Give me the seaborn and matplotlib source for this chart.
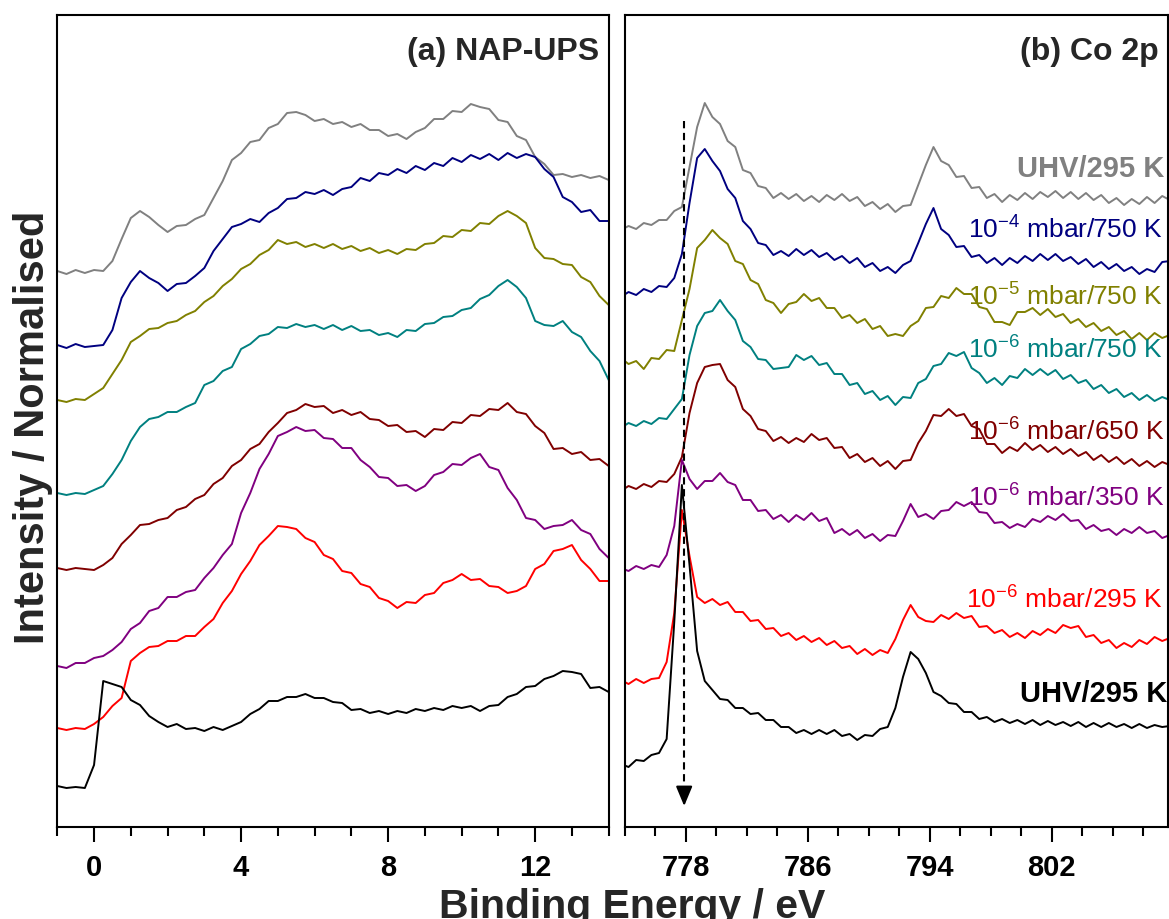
import numpy as np
import pandas as pd
import matplotlib
matplotlib.use("Agg")
import matplotlib.pyplot as plt
from matplotlib.ticker import MultipleLocator
import seaborn as sns

sns.set_style("ticks")
plt.rcParams["font.family"] = ["Liberation Sans", "DejaVu Sans"]
plt.rcParams["mathtext.fontset"] = "custom"
plt.rcParams["mathtext.rm"] = "Liberation Sans"
plt.rcParams["mathtext.it"] = "Liberation Sans:italic"
plt.rcParams["mathtext.bf"] = "Liberation Sans:bold"
plt.rcParams["axes.edgecolor"] = "black"
plt.rcParams["xtick.color"] = "black"

# ---------------- data ----------------
conditions = ["UHV/295 K (final)", "1e-4 mbar/750 K", "1e-5 mbar/750 K", "1e-6 mbar/750 K",
              "1e-6 mbar/650 K", "1e-6 mbar/350 K", "1e-6 mbar/295 K", "UHV/295 K"]
colors = ["#808080", "#000080", "#808000", "#008080", "#800000", "#800080", "#FF0000", "#000000"]
right_labels = ["UHV/295 K", r"10$^{-4}$ mbar/750 K", r"10$^{-5}$ mbar/750 K", r"10$^{-6}$ mbar/750 K",
                r"10$^{-6}$ mbar/650 K", r"10$^{-6}$ mbar/350 K", r"10$^{-6}$ mbar/295 K", "UHV/295 K"]
label_bold = [True, False, False, False, False, False, False, True]
label_energy = [799.7, 796.5, 796.5, 796.5, 796.5, 796.5, 796.4, 799.9]
label_level = [651, 589, 522, 469, 387, 321, 219, 126]

# (a) NAP-UPS, binding energy -1 ... 14 eV, step 0.25 eV (intensity, offset stacked)
ups_energy = np.arange(-1.0, 14.001, 0.25)
ups_gray = [556, 553, 557, 554, 557, 556, 566, 588, 609, 616, 610, 602, 595, 601, 602, 608,
            612, 629, 646, 667, 674, 685, 687, 699, 703, 714, 715, 712, 706, 708, 703, 705,
            700, 703, 697, 697, 691, 693, 688, 695, 699, 708, 708, 716, 715, 723, 720, 718,
            707, 705, 691, 687, 670, 663, 652, 653, 650, 652, 649, 651, 647]
ups_navy = [482, 479, 483, 480, 481, 482, 497, 529, 545, 556, 549, 544, 536, 543, 544, 551,
            559, 576, 588, 600, 603, 608, 605, 614, 619, 628, 629, 635, 633, 637, 632, 638,
            640, 649, 646, 654, 652, 658, 654, 661, 657, 664, 661, 669, 665, 672, 668, 673,
            667, 674, 669, 673, 670, 658, 650, 630, 625, 615, 617, 606, 606]
ups_olive = [427, 425, 428, 427, 433, 439, 453, 467, 485, 491, 498, 499, 504, 506, 512, 516,
             525, 531, 541, 548, 558, 563, 572, 577, 587, 583, 585, 580, 583, 579, 583, 578,
             581, 576, 579, 574, 577, 573, 578, 577, 583, 584, 591, 590, 597, 596, 604, 603,
             611, 616, 611, 604, 579, 569, 568, 563, 562, 550, 545, 531, 522]
ups_teal = [334, 332, 334, 333, 337, 341, 353, 367, 386, 400, 408, 410, 415, 415, 420, 424,
            442, 446, 456, 460, 478, 483, 491, 493, 500, 499, 503, 500, 502, 498, 502, 497,
            501, 496, 497, 492, 494, 490, 497, 496, 503, 504, 510, 511, 517, 519, 528, 532,
            541, 547, 540, 529, 506, 502, 501, 506, 495, 490, 476, 466, 447]
ups_darkred = [259, 257, 259, 258, 257, 262, 269, 283, 292, 302, 303, 307, 309, 317, 320, 328,
               332, 343, 349, 361, 367, 378, 383, 395, 404, 414, 417, 423, 420, 421, 414, 417,
               412, 415, 408, 407, 401, 402, 395, 396, 390, 398, 397, 405, 404, 412, 411, 418,
               417, 424, 415, 413, 401, 394, 378, 379, 373, 375, 367, 368, 361]
ups_purple = [161, 159, 164, 164, 169, 171, 177, 185, 198, 204, 216, 219, 230, 230, 235, 237,
              249, 259, 272, 283, 314, 334, 358, 373, 391, 395, 400, 396, 397, 389, 388, 379,
              379, 367, 360, 350, 349, 341, 342, 336, 341, 352, 355, 363, 362, 369, 373, 360,
              357, 339, 327, 309, 307, 298, 301, 302, 307, 297, 293, 278, 269]
ups_red = [99, 97, 99, 98, 103, 110, 121, 129, 166, 174, 180, 181, 186, 186, 191, 191,
           200, 208, 224, 236, 253, 266, 282, 291, 301, 300, 298, 289, 285, 272, 268, 256,
           254, 243, 240, 229, 226, 219, 225, 224, 232, 234, 244, 247, 253, 247, 248, 241,
           240, 234, 236, 241, 258, 263, 276, 278, 282, 267, 258, 246, 246]
ups_black = [41, 39, 40, 39, 62, 146, 143, 140, 127, 122, 111, 105, 100, 103, 98, 99,
             96, 100, 97, 101, 105, 113, 118, 126, 126, 130, 130, 133, 129, 129, 125, 124,
             117, 118, 114, 116, 113, 116, 114, 118, 116, 119, 117, 121, 119, 121, 116, 121,
             122, 130, 133, 140, 141, 148, 151, 156, 155, 153, 139, 140, 135]

# (b) Co 2p, binding energy 773.75 ... 809.75 eV, step 0.5 eV
co_energy = np.arange(773.75, 809.751, 0.5)
co_gray = [597, 601, 598, 604, 602, 607, 607, 616, 620, 660, 700, 724, 710, 703, 686, 680,
           657, 654, 641, 639, 629, 634, 628, 633, 626, 631, 625, 632, 627, 633, 626, 630,
           621, 625, 618, 623, 615, 621, 622, 642, 662, 680, 666, 662, 650, 651, 639, 640,
           629, 633, 625, 632, 627, 634, 628, 635, 630, 636, 629, 635, 628, 634, 627, 632,
           624, 629, 622, 628, 623, 630, 624, 631, 627]
co_navy = [530, 535, 532, 538, 535, 541, 540, 549, 573, 624, 669, 678, 666, 656, 638, 629,
           606, 598, 584, 582, 572, 576, 571, 578, 572, 577, 570, 574, 567, 571, 564, 569,
           560, 564, 556, 560, 554, 562, 566, 584, 603, 619, 598, 592, 580, 581, 570, 572,
           564, 569, 562, 569, 564, 571, 566, 573, 567, 573, 566, 570, 563, 568, 560, 565,
           558, 563, 556, 560, 553, 558, 555, 565, 566]
co_olive = [469, 463, 466, 458, 469, 468, 477, 476, 507, 538, 579, 587, 597, 589, 583, 566,
            563, 547, 543, 527, 524, 514, 523, 525, 533, 526, 529, 519, 519, 509, 512, 504,
            508, 498, 501, 491, 493, 491, 501, 506, 519, 520, 531, 529, 539, 533, 533, 520,
            518, 505, 505, 502, 515, 515, 519, 512, 518, 510, 513, 504, 508, 500, 504, 496,
            500, 492, 496, 488, 494, 487, 494, 489, 492]
co_teal = [399, 404, 401, 406, 403, 409, 408, 418, 428, 472, 501, 514, 516, 527, 516, 507,
           486, 480, 468, 467, 458, 459, 460, 472, 467, 471, 462, 464, 453, 453, 442, 444,
           433, 436, 427, 431, 422, 430, 429, 444, 448, 461, 463, 474, 471, 475, 459, 454,
           444, 449, 442, 451, 449, 458, 452, 458, 452, 457, 448, 452, 444, 447, 438, 442,
           434, 438, 430, 434, 427, 432, 426, 430, 427]
co_darkred = [336, 341, 338, 343, 340, 346, 345, 353, 370, 414, 444, 460, 462, 463, 447, 440,
              418, 411, 398, 396, 386, 390, 384, 389, 385, 393, 387, 389, 379, 380, 369, 373,
              365, 369, 361, 366, 358, 366, 367, 384, 396, 412, 411, 418, 411, 413, 401, 398,
              383, 383, 374, 380, 376, 384, 377, 382, 375, 380, 373, 378, 371, 375, 367, 372,
              365, 370, 363, 368, 361, 366, 360, 365, 362]
co_purple = [259, 256, 261, 258, 262, 260, 272, 301, 367, 348, 338, 346, 346, 354, 345, 342,
             327, 327, 316, 317, 308, 312, 305, 312, 307, 314, 306, 309, 294, 298, 292, 297,
             289, 293, 286, 292, 291, 306, 323, 310, 313, 308, 316, 317, 325, 321, 325, 315,
             314, 304, 305, 299, 303, 300, 308, 305, 311, 307, 313, 306, 307, 298, 302, 296,
             298, 292, 298, 294, 300, 294, 296, 289, 292]
co_red = [147, 143, 148, 144, 148, 149, 165, 214, 317, 271, 230, 224, 228, 222, 225, 215,
          215, 206, 207, 198, 199, 191, 194, 187, 191, 185, 189, 182, 186, 179, 181, 173,
          178, 172, 177, 174, 188, 207, 222, 210, 206, 205, 212, 208, 214, 209, 211, 200,
          201, 194, 197, 190, 194, 189, 196, 192, 198, 194, 202, 199, 201, 190, 192, 184,
          187, 179, 184, 180, 187, 183, 190, 186, 189]
co_black = [63, 60, 67, 66, 72, 74, 88, 205, 342, 262, 176, 146, 137, 128, 127, 119,
            119, 113, 114, 107, 107, 100, 100, 94, 97, 93, 97, 93, 97, 91, 93, 87,
            92, 91, 98, 100, 119, 150, 175, 168, 154, 135, 131, 124, 123, 115, 115, 108,
            110, 105, 108, 104, 107, 103, 107, 102, 106, 102, 105, 101, 105, 100, 104, 100,
            104, 100, 103, 99, 103, 99, 102, 100, 101]

ups_series = [ups_gray, ups_navy, ups_olive, ups_teal, ups_darkred, ups_purple, ups_red, ups_black]
co_series = [co_gray, co_navy, co_olive, co_teal, co_darkred, co_purple, co_red, co_black]

ups_major = [0, 4, 8, 12]
co_major = [778, 786, 794, 802]
arrow_energy = 777.9
arrow_top, arrow_bottom = 706, 21


def long_frame(energy, series):
    return pd.DataFrame({
        "Binding energy": np.concatenate([energy for _ in series]),
        "Intensity": np.concatenate([np.asarray(s, float) for s in series]),
        "Condition": np.repeat(conditions, len(energy)),
    })


df_ups = long_frame(ups_energy, ups_series)
df_co = long_frame(co_energy, co_series)
palette = dict(zip(conditions, colors))

# ---------------- figure ----------------
fig = plt.figure(figsize=(11.69, 9.2), dpi=100)
ax1 = fig.add_axes([0.0490, 0.1000, 0.4717, 0.8826])
ax2 = fig.add_axes([0.5344, 0.1000, 0.4650, 0.8826])

for ax, df in ((ax1, df_ups), (ax2, df_co)):
    sns.lineplot(data=df, x="Binding energy", y="Intensity", hue="Condition",
                 hue_order=conditions, palette=palette, estimator=None,
                 legend=False, linewidth=1.4, ax=ax)
    ax.set_xlabel("")
    ax.set_ylabel("")
    ax.set_ylim(0, 812)
    ax.set_yticks([])
    for sp in ax.spines.values():
        sp.set_visible(True)
        sp.set_linewidth(1.5)
        sp.set_color("black")

ax1.set_xlim(-1, 14)
ax1.set_xticks(ups_major)
ax1.xaxis.set_minor_locator(MultipleLocator(1))
ax2.set_xlim(774, 809.65)
ax2.set_xticks(co_major)
ax2.set_xticks(np.arange(774, 810, 2), minor=True)

for ax in (ax1, ax2):
    ax.tick_params(axis="x", which="major", direction="out", length=11, width=1.5,
                   labelsize=21, pad=8, bottom=True, top=False)
    ax.tick_params(axis="x", which="minor", direction="out", length=6.5, width=1.5,
                   bottom=True, top=False)
    ax.tick_params(axis="y", left=False, right=False)
    for lab in ax.get_xticklabels():
        lab.set_fontweight("bold")

# panel titles
ax1.text(13.73, 768, "(a) NAP-UPS", ha="right", va="baseline", fontsize=23, fontweight="bold")
ax2.text(809.0, 768, "(b) Co 2p", ha="right", va="baseline", fontsize=23, fontweight="bold")

# condition labels
for txt, col, bx, by, b in zip(right_labels, colors, label_energy, label_level, label_bold):
    ax2.text(bx, by, txt, color=col, ha="left", va="baseline",
             fontsize=21 if b else 19, fontweight="bold" if b else "normal", clip_on=False)

# dashed arrow at the metallic Co 2p3/2 position
ax2.plot([arrow_energy, arrow_energy], [arrow_top, arrow_bottom + 16], color="black",
         lw=1.5, ls=(0, (3.5, 2.2)))
ax2.annotate("", xy=(arrow_energy, arrow_bottom), xytext=(arrow_energy, arrow_bottom + 17),
             arrowprops=dict(arrowstyle="-|>,head_length=0.6,head_width=0.25",
                             color="black", lw=1.5, shrinkA=0, shrinkB=0, mutation_scale=20))

# axis labels
fig.text(0.5406, 0.0022, "Binding Energy / eV", ha="center", va="baseline",
         fontsize=29.5, fontweight="bold")
fig.text(0.0282, 0.536, "Intensity / Normalised", ha="center", va="center",
         rotation=90, fontsize=30, fontweight="bold")

fig.savefig("out.png", dpi=100)
